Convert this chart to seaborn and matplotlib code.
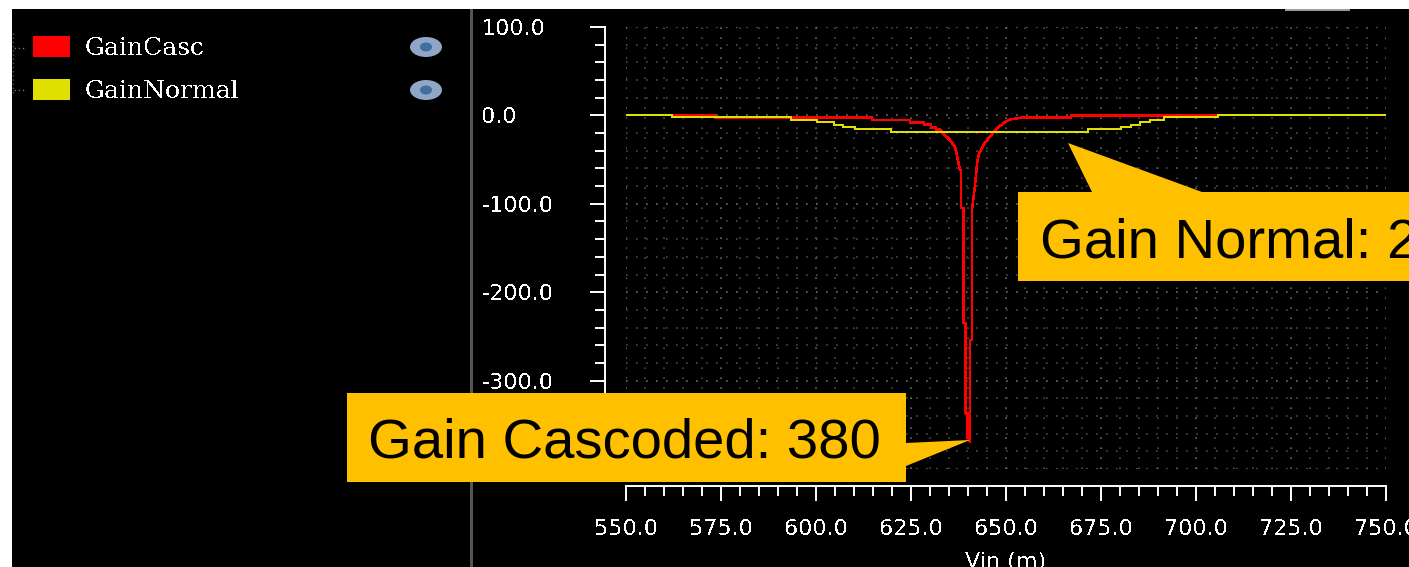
import matplotlib
matplotlib.use("Agg")
import matplotlib.pyplot as plt
import pandas as pd
import seaborn as sns
from matplotlib.patches import Patch, Polygon, Rectangle, Ellipse
from matplotlib.ticker import MultipleLocator, FormatStrFormatter

W, H = 1409, 567

casc_x = [562.1, 573.4, 573.4, 614.7, 614.7, 624.7, 624.7, 628.4, 628.4, 630.3, 630.3, 631.6, 631.6, 632.6, 633.4,
          635.3, 636.6, 637.2, 637.9, 638.1, 638.1, 638.8, 638.8, 639.4, 639.4, 639.9, 639.9, 640.5, 640.5,
          641.1, 641.1, 641.8, 642.4, 642.9, 644.5, 647.1, 649.2, 651.1, 654.5, 667.1, 667.1, 705.8]
casc_y = [0, 0, -2.3, -2.3, -5, -5, -8, -8, -10, -10, -13.5, -13.5, -16, -16, -20,
          -28, -36, -47.5, -62, -62, -105, -105, -235, -235, -337, -337, -365, -369, -254,
          -254, -105, -81, -54, -43, -30.5, -17, -9, -4.5, -2.3, -2.3, 0, 0]
norm_x = [550, 562.1, 562.1, 593.4, 593.4, 600.3, 600.3, 604.7, 604.7, 607.1, 607.1, 610.3, 610.3, 619.7, 619.7,
          671.6, 671.6, 680.3, 680.3, 682.9, 682.9, 685.3, 685.3, 687.9, 687.9, 691.6, 691.6, 705.8, 705.8, 750]
norm_y = [0, 0, -2.3, -2.3, -5, -5, -8, -8, -10.5, -10.5, -13.2, -13.2, -15.8, -15.8, -18.5,
          -18.5, -15.8, -15.8, -13.2, -13.2, -10.5, -10.5, -8, -8, -5, -5, -2.3, -2.3, 0, 0]
series_names = ["GainCasc", "GainNormal"]
series_colors = ["#ff0000", "#e0e000"]

df = pd.concat([
    pd.DataFrame({"Vin": casc_x, "Gain": casc_y, "series": series_names[0]}),
    pd.DataFrame({"Vin": norm_x, "Gain": norm_y, "series": series_names[1]}),
])

sns.set_theme(style="dark")
plt.rcParams["font.family"] = ["DejaVu Sans"]


def fx(x):
    return x / W


def fy(y):
    return 1 - y / H


def pts(*pairs):
    return [(fx(a), fy(b)) for a, b in pairs]


fig = plt.figure(figsize=(W / 100, H / 100), dpi=100, facecolor="white")
fig.add_artist(Rectangle((fx(12), 0), 1 - fx(12), fy(9), transform=fig.transFigure,
                         facecolor="black", edgecolor="none", zorder=-2))
fig.add_artist(Rectangle((fx(470), 0), 3 / W, fy(9), transform=fig.transFigure,
                         facecolor="#555555", edgecolor="none", zorder=-1))
fig.add_artist(Rectangle((fx(1285), fy(11)), 65 / W, 2 / H, transform=fig.transFigure,
                         facecolor="#9a9aa0", edgecolor="none", zorder=-1))

ax = fig.add_axes([fx(626), fy(469), 760 / W, 442 / H], zorder=1)
ax.set_facecolor("black")
sns.lineplot(data=df, x="Vin", y="Gain", hue="series", hue_order=series_names,
             palette=series_colors, estimator=None, sort=False, legend=False,
             linewidth=1.1, antialiased=False, ax=ax)
ax.set_xlim(550, 750)
ax.set_ylim(-400, 100)

ax.xaxis.set_major_locator(MultipleLocator(25))
ax.xaxis.set_minor_locator(MultipleLocator(5))
ax.yaxis.set_major_locator(MultipleLocator(100))
ax.yaxis.set_minor_locator(MultipleLocator(20))
ax.xaxis.set_major_formatter(FormatStrFormatter("%.1f"))
ax.yaxis.set_major_formatter(FormatStrFormatter("%.1f"))
ax.set_axisbelow(True)
ax.grid(True, which="major", color="#6c6c6c", linestyle=(0, (1, 5)), linewidth=1.2)
ax.grid(True, which="minor", color="#4a4a4a", linestyle=(0, (1, 5)), linewidth=1.2)

ax.spines["top"].set_visible(False)
ax.spines["right"].set_visible(False)
for side, off in (("left", 21), ("bottom", 17)):
    ax.spines[side].set_position(("outward", off * 0.72))
    ax.spines[side].set_color("white")
    ax.spines[side].set_linewidth(1.4)

ax.tick_params(axis="x", which="major", length=11, width=1.4, color="white", labelcolor="white",
               labelsize=16, pad=13, bottom=True)
ax.tick_params(axis="x", which="minor", length=7, width=1.4, color="white", bottom=True)
ax.tick_params(axis="y", which="major", length=11, width=1.4, color="white", labelcolor="white",
               labelsize=16, pad=78, left=True)
ax.tick_params(axis="y", which="minor", length=7, width=1.4, color="white", left=True)
for lab in ax.get_yticklabels():
    lab.set_ha("left")
    lab.set_antialiased(False)
for lab in ax.get_xticklabels():
    lab.set_antialiased(False)

ax.set_xlabel("Vin (m)", color="white", fontsize=16, labelpad=9)
ax.xaxis.label.set_antialiased(False)
ax.set_ylabel("")

# legend
handles = [Patch(facecolor=c, edgecolor="none", label=n) for n, c in zip(series_names, series_colors)]
leg = ax.legend(handles=handles, loc="upper left", bbox_to_anchor=(fx(33), fy(36)),
                bbox_transform=fig.transFigure, frameon=False, borderpad=0, borderaxespad=0,
                handlelength=1.48, handleheight=0.92, handletextpad=0.6, labelspacing=0.76,
                prop={"family": "DejaVu Serif", "size": 18})
for t in leg.get_texts():
    t.set_color("white")
    t.set_antialiased(False)

for y in (47, 90):
    fig.add_artist(Ellipse((fx(426), fy(y)), 32 / W, 20 / H, transform=fig.transFigure,
                           facecolor="#8fa6c4", edgecolor="none", zorder=2))
    fig.add_artist(Ellipse((fx(426), fy(y)), 12 / W, 9 / H, transform=fig.transFigure,
                           facecolor="#3f6f9f", edgecolor="none", zorder=3))

for y in (48, 90):
    fig.add_artist(plt.Line2D([fx(14), fx(24)], [fy(y), fy(y)], transform=fig.transFigure,
                              color="#777777", linestyle=(0, (1, 2)), linewidth=1, zorder=2))
fig.add_artist(plt.Line2D([fx(13), fx(13)], [fy(33), fy(95)], transform=fig.transFigure,
                          color="#555555", linestyle=(0, (1, 2)), linewidth=1, zorder=2))

# callouts
gold = "#ffc000"
fig.add_artist(Polygon(pts((347, 393), (906, 393), (906, 443), (970, 440), (906, 466), (906, 482), (347, 482)),
                       closed=True, transform=fig.transFigure, facecolor=gold, edgecolor="none", zorder=5))
fig.add_artist(Polygon(pts((1018, 192), (1092, 192), (1068, 143), (1202, 192), (1409, 192), (1409, 281), (1018, 281)),
                       closed=True, transform=fig.transFigure, facecolor=gold, edgecolor="none", zorder=5))
fig.text(fx(368), fy(443), "Gain Cascoded: 380", color="black", fontsize=40.5,
         family="Liberation Sans", ha="left", va="center", zorder=6)
fig.text(fx(1040), fy(243), "Gain Normal: 20", color="black", fontsize=40.5,
         family="Liberation Sans", ha="left", va="center", zorder=6)

fig.savefig("out.png", dpi=100, facecolor="white")
